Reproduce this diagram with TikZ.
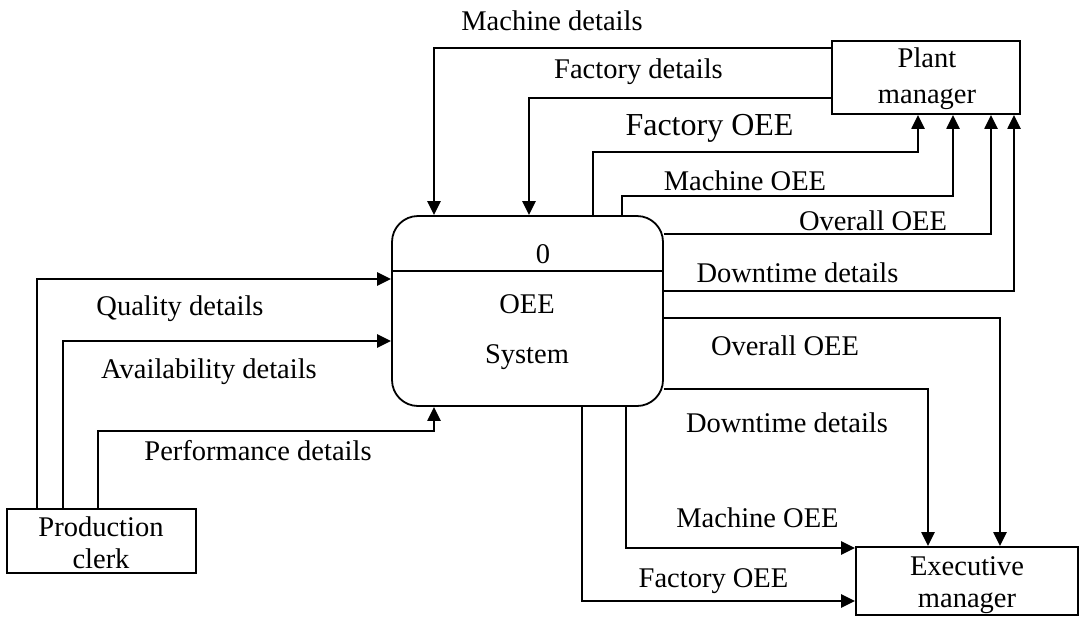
\documentclass[tikz,border=0pt]{standalone}
\usepackage{fontspec}
\setmainfont{Liberation Serif}
\usetikzlibrary{arrows.meta}
\begin{document}
\begin{tikzpicture}[x=1pt,y=-1pt,
  flow/.style={line width=2.3pt, -{Triangle[length=14pt,width=13pt]}},
  plain/.style={line width=1.8pt},
  box/.style={draw, line width=1.8pt, rectangle, inner sep=0pt},
  lbl/.style={anchor=base, inner sep=0pt, font=\fontsize{28.5}{34}\selectfont},
  biglbl/.style={anchor=base, inner sep=0pt, font=\fontsize{32}{38}\selectfont}]
\useasboundingbox (0,0) rectangle (1082,619);

% external entities and the process
\node[box, minimum width=188pt, minimum height=73pt] (plant) at (926,77.5) {};
\node[box, minimum width=189pt, minimum height=64pt] (clerk) at (101.5,541) {};
\node[box, minimum width=222pt, minimum height=68pt] (exec) at (967,581) {};
\node[box, rounded corners=26pt, minimum width=271pt, minimum height=190pt] (proc) at (527.5,311) {};
\coordinate (div) at (0,271);
\draw[plain] (proc.west |- div) -- (proc.east |- div);

% texts inside the shapes
\node[lbl] (plantA) at (927,67) {Plant};
\node[lbl] (plantB) at (927,103) {manager};
\node[lbl] (clerkA) at (101,536) {Production};
\node[lbl] (clerkB) at (101,568) {clerk};
\node[lbl] (execA) at (967,575) {Executive};
\node[lbl] (execB) at (967,607) {manager};
\node[lbl] (procN) at (543,263) {0};
\node[lbl] (procA) at (527,313) {OEE};
\node[lbl] (procB) at (527,363) {System};

% bend points of the flows
\coordinate (mdA) at (434,48);
\coordinate (fdA) at (529,98);
\coordinate (foA) at (593,152);
\coordinate (foB) at (918,152);
\coordinate (moA) at (622,196);
\coordinate (moB) at (953,196);
\coordinate (ovA) at (991,234);
\coordinate (dtA) at (1014,291);
\coordinate (ovB) at (1000,318);
\coordinate (dtB) at (928,389);
\coordinate (moC) at (626,548);
\coordinate (foC) at (582,601);
\coordinate (qdA) at (37,279);
\coordinate (adA) at (63,341);
\coordinate (pdA) at (98,431);
\coordinate (pdB) at (434,431);

% data flows
\draw[flow] (plant.west |- mdA) -| (proc.north -| mdA);
\draw[flow] (plant.west |- fdA) -| (proc.north -| fdA);
\draw[flow] (proc.north -| foA) |- (foB) -- (plant.south -| foB);
\draw[flow] (proc.north -| moA) |- (moB) -- (plant.south -| moB);
\draw[flow] (proc.east |- ovA) -| (plant.south -| ovA);
\draw[flow] (proc.east |- dtA) -| (plant.south -| dtA);
\draw[flow] (proc.east |- ovB) -| (exec.north -| ovB);
\draw[flow] (proc.east |- dtB) -| (exec.north -| dtB);
\draw[flow] (proc.south -| moC) |- (exec.west |- moC);
\draw[flow] (proc.south -| foC) |- (exec.west |- foC);
\draw[flow] (clerk.north -| qdA) |- (proc.west |- qdA);
\draw[flow] (clerk.north -| adA) |- (proc.west |- adA);
\draw[flow] (clerk.north -| pdA) |- (pdB) -- (proc.south -| pdB);

% flow labels
\node[lbl] (tMd) at (552,30) {Machine details};
\node[lbl] (tFd) at (638.5,78) {Factory details};
\node[biglbl] (tFo) at (709.5,135) {Factory OEE};
\node[lbl] (tMo) at (745,190) {Machine OEE};
\node[lbl] (tOv) at (873,230) {Overall OEE};
\node[lbl] (tDt) at (797.5,282) {Downtime details};
\node[lbl] (tOvB) at (785,355) {Overall OEE};
\node[lbl] (tDtB) at (787,432) {Downtime details};
\node[lbl] (tMoC) at (757.5,527) {Machine OEE};
\node[lbl] (tFoC) at (713.5,587) {Factory OEE};
\node[lbl] (tQd) at (180,315) {Quality details};
\node[lbl] (tAd) at (209,378) {Availability details};
\node[lbl] (tPd) at (258,460) {Performance details};
\end{tikzpicture}
\end{document}
